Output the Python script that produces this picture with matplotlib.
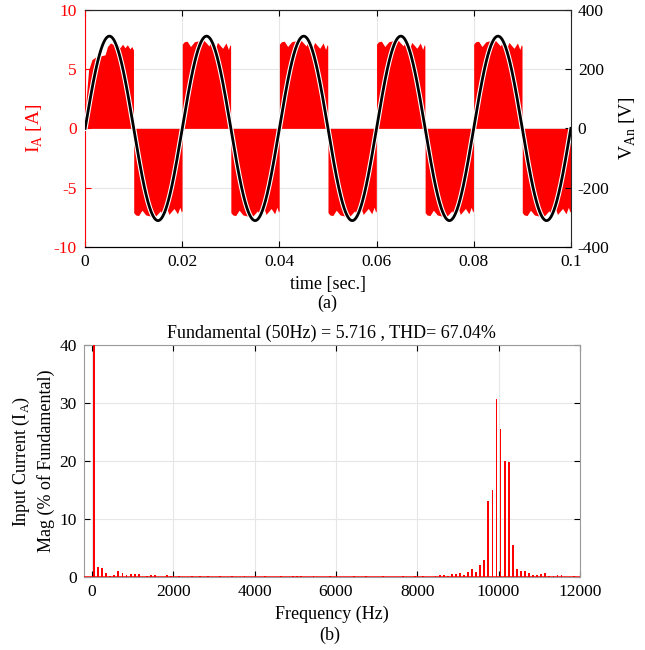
import numpy as np
import matplotlib
matplotlib.use("Agg")
import matplotlib.pyplot as plt
import matplotlib.patheffects as pe

plt.rcParams["font.family"] = ["Liberation Serif", "DejaVu Serif"]
plt.rcParams["mathtext.fontset"] = "custom"
plt.rcParams["mathtext.rm"] = "Liberation Serif"
plt.rcParams["axes.unicode_minus"] = False
plt.rcParams["font.size"] = 12

# --- (a) input current envelope and supply voltage ---
F_LINE = 50.0          # Hz
V_PEAK = 311.0         # V
T_END = 0.1            # s
HALF_MS = 10.0

# first (start-up) half cycle: time in ms, |I_A| envelope in A
FIRST_T_MS = [0.0, 0.2, 0.7, 1.4, 2.1, 3.1, 4.1, 4.6, 5.2, 6.2, 6.6, 7.2, 7.7, 8.2, 8.7, 9.2, 9.6, 9.95]
FIRST_I = [0.0, 2.4, 4.9, 5.8, 6.0, 6.1, 6.2, 6.9, 7.2, 7.0, 7.1, 6.8, 7.1, 6.8, 7.05, 6.7, 6.9, 6.6]

# steady-state half cycle envelope
HALF_T_MS = [0.0, 0.4, 1.0, 1.7, 2.5, 3.5, 4.5, 5.5, 5.9, 6.9, 7.25, 8.3, 9.0, 9.5, 9.8, 9.95]
HALF_I = [7.1, 7.3, 7.35, 6.9, 7.3, 7.4, 7.4, 6.95, 7.3, 6.85, 7.25, 6.75, 7.2, 6.65, 7.05, 6.95]

# --- (b) harmonic spectrum (odd harmonics of 50 Hz), % of fundamental ---
FUND_TEXT = "Fundamental (50Hz) = 5.716 , THD= 67.04%"
HARM_HZ = np.arange(50, 12000, 100)
HARM_MAG = [
    100.0, 1.7, 1.6, 0.8, 0.25, 0.45, 1.15, 0.75, 0.3, 0.55,        # 50 - 950
    0.55, 0.55, 0.1, 0.2, 0.45, 0.3, 0.1, 0.1, 0.3, 0.15,           # 1050 - 1950
    0.1, 0.15, 0.1, 0.1, 0.2, 0.1, 0.15, 0.1, 0.15, 0.1,            # 2050 - 2950
    0.1, 0.15, 0.1, 0.1, 0.15, 0.1, 0.1, 0.15, 0.1, 0.1,            # 3050 - 3950
    0.1, 0.1, 0.15, 0.1, 0.1, 0.1, 0.15, 0.1, 0.1, 0.2,             # 4050 - 4950
    0.15, 0.2, 0.1, 0.1, 0.15, 0.1, 0.1, 0.1, 0.15, 0.1,            # 5050 - 5950
    0.1, 0.1, 0.1, 0.1, 0.15, 0.1, 0.1, 0.15, 0.1, 0.1,             # 6050 - 6950
    0.1, 0.15, 0.1, 0.1, 0.1, 0.1, 0.15, 0.1, 0.1, 0.15,            # 7050 - 7950
    0.1, 0.15, 0.1, 0.1, 0.2, 0.3, 0.3, 0.15, 0.6, 0.6,             # 8050 - 8950
    0.65, 0.3, 0.95, 1.45, 0.9, 2.1, 2.9, 13.1, 15.0, 30.8,         # 9050 - 9950
    25.5, 20.0, 19.8, 5.5, 1.45, 1.05, 1.0, 0.65, 0.3, 0.4,         # 10050 - 10950
    0.6, 0.65, 0.2, 0.15, 0.45, 0.3, 0.1, 0.1, 0.25, 0.1,           # 11050 - 11950
]

RED = "#ff0000"
GRID = "#e6e6e6"
SPINE = "#9a9a9a"

fig = plt.figure(figsize=(6.45, 6.5), dpi=100)

# ---------------- (a) ----------------
ax = fig.add_axes([0.132, 0.620, 0.753, 0.365])
n_half = int(round(T_END * 1000 / HALF_MS))
for k in range(n_half):
    src_t, src_i = (FIRST_T_MS, FIRST_I) if k == 0 else (HALF_T_MS, HALF_I)
    t = (k * HALF_MS + np.array(src_t)) / 1000.0
    sign = 1.0 if k % 2 == 0 else -1.0
    tt = np.concatenate([[t[0]], t, [t[-1]]])
    ii = sign * np.concatenate([[0.0], src_i, [0.0]])
    ax.fill_between(tt, 0, ii, color=RED, lw=0)
ax.set_xlim(0, T_END)
ax.set_ylim(-10, 10)
ax.set_yticks([-10, -5, 0, 5, 10])
ax.set_xticks([0, 0.02, 0.04, 0.06, 0.08, 0.1])
ax.set_xticklabels(["0", "0.02", "0.04", "0.06", "0.08", "0.1"])
ax.grid(True, color=GRID, lw=0.8)
ax.set_axisbelow(True)
ax.tick_params(axis="y", colors=RED, direction="in", length=4, labelsize=12.5, pad=6)
ax.tick_params(axis="x", direction="in", length=4, top=True, labelsize=12.5, pad=5)
ax.spines["left"].set_color(RED)
ax.spines["right"].set_visible(False)
ax.spines["top"].set_color("#262626")
ax.set_ylabel(r"I$_\mathregular{A}$ [A]", color=RED, fontsize=14, labelpad=6)
ax.set_xlabel("time [sec.]", fontsize=13, labelpad=4)

ax2 = ax.twinx()
tv = np.linspace(0, T_END, 2001)
ax2.plot(tv, V_PEAK * np.sin(2 * np.pi * F_LINE * tv), color="black", lw=2.0,
         path_effects=[pe.Stroke(linewidth=3.6, foreground="white"), pe.Normal()])
ax2.set_ylim(-400, 400)
ax2.set_yticks([-400, -200, 0, 200, 400])
ax2.tick_params(axis="y", direction="in", length=4, labelsize=12.5, pad=5)
ax2.spines["left"].set_visible(False)
ax2.spines["right"].set_color("#262626")
ax2.spines["top"].set_color("#262626")
ax2.set_ylabel(r"V$_\mathregular{An}$ [V]", fontsize=14, labelpad=6)
fig.text(0.508, 0.534, "(a)", ha="center", va="center", fontsize=13)

# ---------------- (b) ----------------
bx = fig.add_axes([0.130, 0.112, 0.769, 0.357])
bx.bar(HARM_HZ, HARM_MAG, width=45, color=RED, lw=0, zorder=3)
bx.axhline(0, color=RED, lw=1.8, zorder=4)
bx.set_xlim(-200, 12000)
bx.set_ylim(0, 40)
bx.set_xticks(range(0, 12001, 2000))
bx.set_yticks(range(0, 41, 10))
bx.grid(True, color=GRID, lw=0.8)
bx.set_axisbelow(True)
bx.tick_params(direction="in", length=4, top=True, right=True, labelsize=12.5, pad=5)
for s in bx.spines.values():
    s.set_color(SPINE)
bx.set_title(FUND_TEXT, fontsize=13, pad=5)
bx.set_xlabel("Frequency (Hz)", fontsize=13, labelpad=4)
bx.set_ylabel("Input Current (I$_\\mathregular{A}$)\nMag (% of Fundamental)", fontsize=13,
              labelpad=3, linespacing=1.4)
fig.text(0.512, 0.023, "(b)", ha="center", va="center", fontsize=13)

fig.savefig("out.png", dpi=100)
